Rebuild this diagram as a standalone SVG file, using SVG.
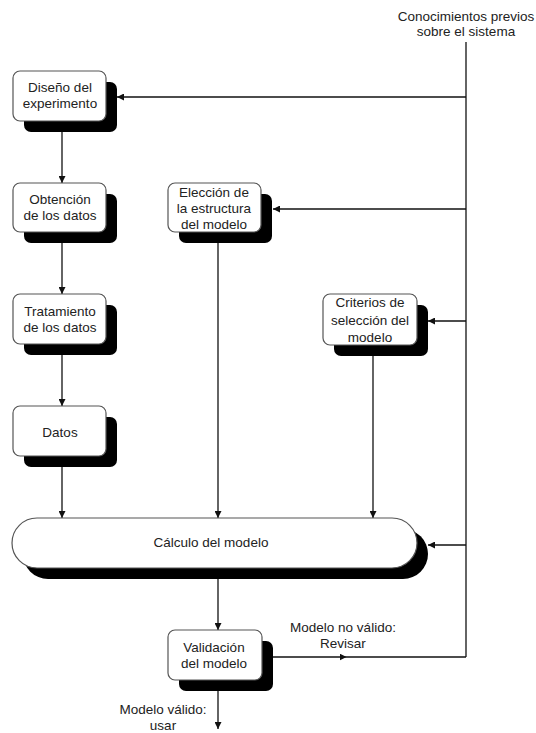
<svg xmlns="http://www.w3.org/2000/svg" width="536" height="733" viewBox="0 0 536 733">
<style>
.box{fill:#fff;stroke:#555;stroke-width:1.2}
.sh{fill:#000}
.t{font-family:"Liberation Sans",Arial,sans-serif;font-size:13.5px;fill:#222;text-anchor:middle}
.c{fill:none;stroke:#111;stroke-width:1.3}
</style>
<defs>
<marker id="ah" viewBox="0 0 10 10" refX="10" refY="5" markerWidth="7" markerHeight="7" markerUnits="userSpaceOnUse" orient="auto">
<path d="M0,0 L10,5 L0,10 z" fill="#111"/>
</marker>
<marker id="mid" viewBox="0 0 10 10" refX="5" refY="5" markerWidth="7" markerHeight="7" markerUnits="userSpaceOnUse" orient="auto">
<path d="M0,0 L10,5 L0,10 z" fill="#111"/>
</marker>
</defs>
<rect width="536" height="733" fill="#fff"/>
<g id="connectors">
<line class="c" x1="62" y1="132" x2="62" y2="183" marker-end="url(#ah)"/>
<line class="c" x1="62" y1="243" x2="62" y2="294" marker-end="url(#ah)"/>
<line class="c" x1="62" y1="355" x2="62" y2="406" marker-end="url(#ah)"/>
<line class="c" x1="62" y1="467" x2="62" y2="518" marker-end="url(#ah)"/>
<line class="c" x1="218" y1="243" x2="218" y2="518" marker-end="url(#ah)"/>
<line class="c" x1="373" y1="356" x2="373" y2="518" marker-end="url(#ah)"/>
<line class="c" x1="218" y1="579" x2="218" y2="630" marker-end="url(#ah)"/>
<line class="c" x1="218" y1="691" x2="218" y2="729" marker-end="url(#ah)"/>
<line class="c" x1="466" y1="42" x2="466" y2="657"/>
<line class="c" x1="466" y1="97" x2="117" y2="97" marker-end="url(#ah)"/>
<line class="c" x1="466" y1="209" x2="273" y2="209" marker-end="url(#ah)"/>
<line class="c" x1="466" y1="321" x2="428" y2="321" marker-end="url(#ah)"/>
<line class="c" x1="466" y1="545" x2="428" y2="545" marker-end="url(#ah)"/>
<polyline class="c" points="273,657 343,657 466,657" marker-mid="url(#mid)"/>
<text class="t" x="466" y="21">Conocimientos previos</text>
<text class="t" x="466" y="36">sobre el sistema</text>
<text class="t" x="343" y="632">Modelo no válido:</text>
<text class="t" x="343" y="648">Revisar</text>
<text class="t" x="163" y="714">Modelo válido:</text>
<text class="t" x="163" y="730">usar</text>
</g>
<g id="diseno">
<rect class="sh" x="24" y="82" width="93" height="50" rx="7"/>
<rect class="box" x="13" y="71" width="93" height="50" rx="7"/>
<text class="t" x="60" y="92">Diseño del</text>
<text class="t" x="60" y="108">experimento</text>
</g>
<g id="obtencion">
<rect class="sh" x="24" y="194" width="93" height="49" rx="7"/>
<rect class="box" x="13" y="183" width="93" height="49" rx="7"/>
<text class="t" x="60" y="204">Obtención</text>
<text class="t" x="60" y="220">de los datos</text>
</g>
<g id="tratamiento">
<rect class="sh" x="24" y="305" width="93" height="50" rx="7"/>
<rect class="box" x="13" y="294" width="93" height="50" rx="7"/>
<text class="t" x="60" y="316">Tratamiento</text>
<text class="t" x="60" y="332">de los datos</text>
</g>
<g id="datos">
<rect class="sh" x="24" y="417" width="93" height="50" rx="7"/>
<rect class="box" x="13" y="406" width="93" height="50" rx="7"/>
<text class="t" x="60" y="437">Datos</text>
</g>
<g id="eleccion">
<rect class="sh" x="179" y="194" width="93" height="49" rx="7"/>
<rect class="box" x="168" y="183" width="93" height="49" rx="7"/>
<text class="t" x="214" y="197">Elección de</text>
<text class="t" x="214" y="213">la estructura</text>
<text class="t" x="214" y="229">del modelo</text>
</g>
<g id="criterios">
<rect class="sh" x="334" y="305" width="94" height="51" rx="7"/>
<rect class="box" x="323" y="294" width="94" height="51" rx="7"/>
<text class="t" x="370" y="307">Criterios de</text>
<text class="t" x="370" y="325">selección del</text>
<text class="t" x="370" y="342">modelo</text>
</g>
<g id="calculo">
<rect class="sh" x="23" y="529" width="405" height="50" rx="25"/>
<rect class="box" x="12" y="518" width="405" height="50" rx="25"/>
<text class="t" x="211" y="547">Cálculo del modelo</text>
</g>
<g id="validacion">
<rect class="sh" x="179" y="641" width="94" height="50" rx="7"/>
<rect class="box" x="168" y="630" width="94" height="50" rx="7"/>
<text class="t" x="214" y="652">Validación</text>
<text class="t" x="214" y="668">del modelo</text>
</g>
</svg>
